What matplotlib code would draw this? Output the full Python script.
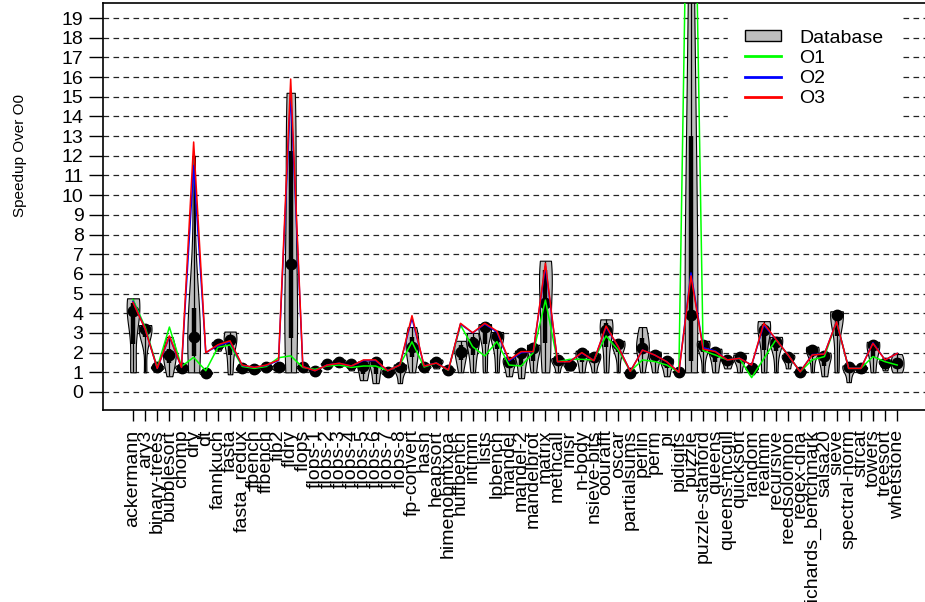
import numpy as np
import matplotlib
matplotlib.use("Agg")
import matplotlib.pyplot as plt
from matplotlib.patches import Patch
from matplotlib.lines import Line2D

plt.rcParams["font.family"] = ["Liberation Sans", "DejaVu Sans"]

benchmarks = [
    "ackermann", "ary3", "binary-trees", "bubblesort", "chomp", "dry", "dt",
    "fannkuch", "fasta", "fasta_redux", "fbench", "ffbench", "fib2", "fldry",
    "flops", "flops-1", "flops-2", "flops-3", "flops-4", "flops-5", "flops-6",
    "flops-7", "flops-8", "fp-convert", "hash", "heapsort", "himenobmtxpa",
    "huffbench", "intmm", "lists", "lpbench", "mandel", "mandel-2",
    "mandelbrot", "matrix", "methcall", "misr", "n-body", "nsieve-bits",
    "oourafft", "oscar", "partialsums", "perlin", "perm", "pi", "pidigits",
    "puzzle", "puzzle-stanford", "queens", "queens-mcgill", "quicksort",
    "random", "realmm", "recursive", "reedsolomon", "regex-dna",
    "richards_benchmark", "salsa20", "sieve", "spectral-norm", "strcat",
    "towers", "treesort", "whetstone",
]

# speedup of the -O1/-O2/-O3 pipelines over -O0
o1 = [4.7, 3.3, 1.25, 3.3, 1.3, 1.76, 1.08, 2.27, 2.39, 1.3, 1.2, 1.3, 1.74,
      1.84, 1.25, 1.15, 1.32, 1.37, 1.25, 1.32, 1.32, 1.08, 1.37, 2.55, 1.27,
      1.47, 1.1, 3.4, 2.3, 1.83, 2.56, 1.37, 1.32, 2.0, 4.67, 1.54, 1.66,
      1.66, 1.63, 2.85, 2.13, 1.05, 1.63, 1.55, 1.37, 1.0, 39.0, 2.1, 1.88,
      1.63, 1.71, 0.73, 1.69, 2.65, 1.88, 1.03, 1.63, 1.8, 3.57, 1.2, 1.2,
      1.8, 1.54, 1.37]
o2 = [4.6, 3.2, 1.2, 2.8, 1.25, 11.5, 2.0, 2.35, 2.55, 1.35, 1.25, 1.35, 1.6,
      15.2, 1.29, 1.08, 1.37, 1.46, 1.32, 1.6, 1.6, 1.08, 1.37, 3.75, 1.32,
      1.47, 1.12, 3.45, 3.0, 3.45, 3.05, 1.58, 2.0, 2.05, 6.4, 1.54, 1.55,
      1.98, 1.6, 3.3, 2.3, 1.05, 2.13, 1.88, 1.54, 1.0, 6.05, 2.25, 2.08,
      1.63, 1.71, 1.37, 3.4, 2.68, 1.88, 1.03, 1.9, 1.93, 3.57, 1.2, 1.2,
      2.5, 1.63, 1.96]
o3 = [4.55, 3.2, 1.2, 2.85, 1.25, 12.7, 2.0, 2.4, 2.6, 1.37, 1.25, 1.37, 1.63,
      15.9, 1.29, 1.08, 1.37, 1.46, 1.32, 1.63, 1.63, 1.08, 1.37, 3.88, 1.32,
      1.47, 1.12, 3.49, 3.01, 3.49, 3.1, 1.63, 2.05, 2.05, 6.54, 1.54, 1.54,
      2.0, 1.59, 3.35, 2.3, 1.05, 2.13, 1.88, 1.54, 1.0, 5.9, 2.18, 2.05,
      1.63, 1.71, 1.37, 3.49, 2.68, 1.88, 1.03, 1.88, 1.93, 3.57, 1.2, 1.2,
      2.47, 1.63, 1.96]

# speedups predicted from the database, one list per benchmark
database = [
    [1.0, 1.2, 3.7, 4.1, 4.4, 4.65, 4.76],
    [1.0, 2.5, 3.1, 3.2, 3.3, 3.35, 3.4],
    [1.1, 1.2, 1.25, 1.3, 1.4],
    [0.8, 1.3, 1.6, 1.88, 2.1, 2.3, 2.8],
    [1.05, 1.15, 1.24, 1.3, 1.35],
    [1.0, 1.5, 2.2, 2.78, 3.5, 5.0, 12.0],
    [0.9, 0.95, 0.98, 1.05, 1.1],
    [2.1, 2.3, 2.45, 2.5, 2.55],
    [0.9, 1.5, 2.3, 2.64, 2.8, 2.95, 3.07],
    [1.1, 1.15, 1.2, 1.3, 1.4],
    [1.0, 1.1, 1.15, 1.2, 1.3],
    [1.1, 1.2, 1.25, 1.3, 1.4],
    [1.1, 1.2, 1.25, 1.35, 1.45],
    [1.0, 1.0, 2.0, 3.5, 5.0, 6.5, 8.5, 11.0, 13.5, 15.0, 15.2],
    [1.1, 1.2, 1.25, 1.3, 1.35],
    [0.9, 1.0, 1.08, 1.1, 1.15],
    [1.2, 1.35, 1.42, 1.45, 1.5],
    [1.3, 1.45, 1.54, 1.6, 1.65],
    [1.1, 1.3, 1.42, 1.45, 1.5],
    [0.6, 0.9, 1.3, 1.4, 1.55],
    [0.45, 0.9, 1.5, 1.55, 1.6],
    [0.9, 0.95, 1.03, 1.1, 1.2],
    [0.45, 1.0, 1.27, 1.35, 1.4],
    [1.0, 1.6, 2.0, 2.3, 2.6, 3.0, 3.3],
    [1.1, 1.2, 1.27, 1.3, 1.35],
    [1.2, 1.4, 1.54, 1.6, 1.65],
    [0.95, 1.05, 1.12, 1.15, 1.2],
    [1.0, 1.5, 1.8, 2.05, 2.3, 2.5, 2.6],
    [1.0, 1.6, 2.2, 2.47, 2.7, 2.9, 3.0],
    [1.0, 1.8, 3.1, 3.29, 3.35, 3.4, 3.45],
    [1.0, 1.8, 2.6, 2.85, 2.95, 3.0, 3.05],
    [0.8, 1.2, 1.54, 1.65, 1.75],
    [0.7, 1.3, 1.96, 2.05, 2.1],
    [1.0, 1.6, 2.25, 2.35, 2.4],
    [1.0, 1.5, 2.5, 3.5, 4.5, 5.5, 6.2, 6.5, 6.67],
    [1.0, 1.4, 1.63, 1.68, 1.72],
    [1.1, 1.25, 1.37, 1.45, 1.5],
    [1.0, 1.5, 1.96, 2.05, 2.1],
    [1.0, 1.5, 1.8, 1.88, 1.95],
    [1.0, 1.8, 2.8, 3.15, 3.4, 3.6, 3.69],
    [1.0, 1.8, 2.3, 2.42, 2.5, 2.55, 2.6],
    [0.95, 0.97, 0.98, 1.0, 1.03],
    [1.0, 1.8, 2.1, 2.25, 2.5, 3.0, 3.3],
    [1.0, 1.5, 1.9, 2.0, 2.05],
    [0.8, 1.2, 1.55, 1.63, 1.7],
    [0.95, 1.0, 1.03, 1.05, 1.08],
    [1.0, 1.0, 1.2, 2.0, 3.0, 3.9, 7.0, 11.0, 15.0, 19.0, 23.0],
    [1.0, 1.8, 2.3, 2.4, 2.5, 2.55, 2.6],
    [1.0, 1.5, 2.05, 2.1, 2.2],
    [1.2, 1.4, 1.63, 1.68, 1.72],
    [1.0, 1.5, 1.8, 1.85, 1.9],
    [0.9, 1.1, 1.2, 1.25, 1.3],
    [1.0, 1.5, 2.8, 3.15, 3.4, 3.55, 3.6],
    [1.0, 1.8, 2.4, 2.56, 2.7, 2.75, 2.8],
    [1.2, 1.6, 1.8, 1.85, 1.9],
    [0.95, 1.0, 1.03, 1.05, 1.1],
    [1.0, 1.6, 2.0, 2.13, 2.2, 2.25, 2.3],
    [0.8, 1.3, 1.83, 1.9, 2.0],
    [1.0, 2.0, 3.7, 3.9, 4.0, 4.05, 4.1],
    [0.5, 1.0, 1.29, 1.32, 1.35],
    [1.0, 1.1, 1.2, 1.25, 1.3],
    [1.0, 1.8, 2.39, 2.5, 2.55],
    [1.1, 1.4, 1.49, 1.6, 1.65],
    [1.0, 1.2, 1.46, 1.7, 1.93],
]

W, H = 925, 602
fig = plt.figure(figsize=(W / 100, H / 100), dpi=100)
# plot box runs off the right edge, like the cropped original
ax = fig.add_axes([103 / W, 1 - 410 / H, (932 - 103) / W, (410 - 2.5) / H])

pos = np.arange(1, len(benchmarks) + 1)
ax.set_axisbelow(True)
ax.yaxis.grid(True, linestyle=(0, (4.5, 3.5)), color="#222222", linewidth=0.9)

for name, p, d in zip(benchmarks, pos, database):
    # puzzle spreads over a huge range; a wider kernel keeps its body broad
    bw = 1.0 if name == "puzzle" else "scott"
    parts = ax.violinplot([d], positions=[p], widths=1.05,
                          showextrema=False, bw_method=bw)
    for body in parts["bodies"]:
        body.set_facecolor("#bebebe")
        body.set_edgecolor("black")
        body.set_linewidth(0.8)
        body.set_alpha(1)

lo = [min(d) for d in database]
hi = [max(d) for d in database]
q1, med, q3 = np.array([np.percentile(d, [25, 50, 75]) for d in database]).T
ax.vlines(pos, lo, hi, color="black", linewidth=0.9)
ax.vlines(pos, q1, q3, color="black", linewidth=3.2)
ax.plot(pos, med, "o", color="black", markersize=7.5, zorder=3)

ax.plot(pos, o1, color="#00ff00", linewidth=1.1, zorder=4)
ax.plot(pos, o2, color="#0000ff", linewidth=1.1, zorder=4)
ax.plot(pos, o3, color="#ff0000", linewidth=1.1, zorder=4)

ax.set_xlim(1 - 30 / 12.13, 1 + (932 - 133) / 12.13)
ax.set_ylim(-(410 - 392) / 19.684, 19 + (18 - 2.5) / 19.684)
ax.set_yticks(range(20))
ax.set_xticks(pos)
ax.set_xticklabels(benchmarks, rotation=90, ha="center", va="top")
ax.tick_params(axis="both", labelsize=14, width=1, direction="out")
ax.tick_params(axis="x", length=8, pad=6)
ax.tick_params(axis="y", length=10, pad=4)
for sp in ax.spines.values():
    sp.set_linewidth(1.2)

fig.text(20 / W, 1 - 156 / H, "Speedup Over O0", rotation=90,
         ha="center", va="center", fontsize=11)

handles = [
    Patch(facecolor="#bebebe", edgecolor="black", label="Database"),
    Line2D([], [], color="#00ff00", linewidth=2, label="O1"),
    Line2D([], [], color="#0000ff", linewidth=2, label="O2"),
    Line2D([], [], color="#ff0000", linewidth=2, label="O3"),
]
leg = ax.legend(handles=handles, loc="upper left",
                bbox_to_anchor=(728 / W, 1 - 13 / H),
                bbox_transform=fig.transFigure, fontsize=14,
                frameon=True, fancybox=False, framealpha=1,
                edgecolor="white", borderpad=0.85, labelspacing=0.16,
                handlelength=1.9, handleheight=0.5, handletextpad=0.9,
                borderaxespad=0)
leg.set_zorder(10)

fig.savefig("out.png", dpi=100)
